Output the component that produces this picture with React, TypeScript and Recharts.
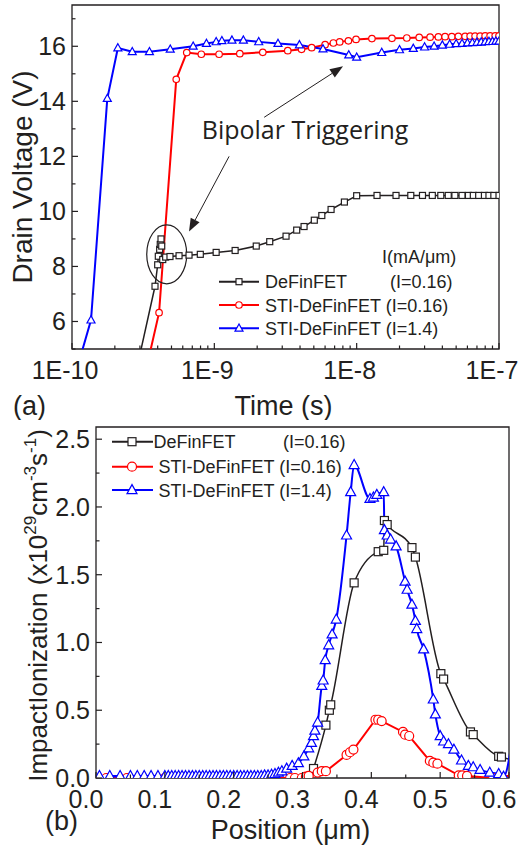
import React from "react";
import {
  LineChart,
  Line,
  XAxis,
  YAxis,
  ReferenceArea,
  ReferenceDot,
  ReferenceLine,
  Legend,
  Label,
} from "recharts";

const INK = "#231f20";
const RED = "#ff0000";
const BLUE = "#0000ff";
const FONT = "'Liberation Sans', Arial, sans-serif";

// ---------- (a) drain voltage vs time ----------
const timeDe = [3.0e-10, 3.83e-10, 4.0e-10, 4.04e-10, 4.13e-10, 4.17e-10, 4.22e-10, 4.27e-10, 4.34e-10, 4.55e-10, 4.88e-10, 5.65e-10, 6.64e-10, 7.97e-10, 1.03e-9, 1.4e-9, 1.97e-9, 2.45e-9, 3.19e-9, 3.79e-9, 4.27e-9, 5.04e-9, 5.69e-9, 6.61e-9, 8.2e-9, 1.0e-8, 1.39e-8, 1.89e-8, 2.4e-8, 2.9e-8, 3.4e-8, 3.9e-8, 4.4e-8, 4.9e-8, 5.5e-8, 6.1e-8, 6.6e-8, 7.2e-8, 7.9e-8, 8.5e-8, 9.2e-8, 1.0e-7];
const voltDe = [4.8, 7.28, 8.06, 8.37, 8.62, 8.8, 9.0, 8.74, 8.25, 8.34, 8.36, 8.39, 8.41, 8.44, 8.51, 8.58, 8.74, 8.9, 9.1, 9.32, 9.45, 9.68, 9.85, 10.07, 10.34, 10.57, 10.58, 10.58, 10.58, 10.58, 10.58, 10.58, 10.58, 10.58, 10.58, 10.58, 10.58, 10.58, 10.58, 10.58, 10.58, 10.58];

const timeStiLo = [3.4e-10, 4.09e-10, 5.4e-10, 6.4e-10, 8.1e-10, 1.08e-9, 1.51e-9, 2.19e-9, 3.28e-9, 4.1e-9, 4.83e-9, 6.0e-9, 6.86e-9, 7.6e-9, 8.75e-9, 9.9e-9, 1.28e-8, 1.77e-8, 2.25e-8, 2.75e-8, 3.28e-8, 3.75e-8, 4.18e-8, 4.66e-8, 5.18e-8, 5.78e-8, 6.27e-8, 6.79e-8, 7.37e-8, 7.99e-8, 8.66e-8, 9.4e-8, 1.0e-7];
const voltStiLo = [4.5, 6.32, 14.8, 15.77, 15.71, 15.71, 15.73, 15.78, 15.84, 15.89, 15.95, 16.06, 16.12, 16.16, 16.2, 16.25, 16.28, 16.29, 16.3, 16.32, 16.33, 16.34, 16.35, 16.35, 16.36, 16.36, 16.37, 16.37, 16.37, 16.38, 16.38, 16.38, 16.38];

const timeStiHi = [1.1e-10, 1.36e-10, 1.77e-10, 2.1e-10, 2.65e-10, 3.5e-10, 4.9e-10, 7.1e-10, 8.8e-10, 1.03e-9, 1.13e-9, 1.33e-9, 1.6e-9, 2.05e-9, 2.8e-9, 3.96e-9, 5.8e-9, 8.8e-9, 1.0e-8, 1.5e-8, 2.0e-8, 2.5e-8, 3.0e-8, 3.5e-8, 4.0e-8, 4.5e-8, 5.0e-8, 5.5e-8, 6.0e-8, 6.5e-8, 7.0e-8, 7.5e-8, 8.0e-8, 8.5e-8, 9.0e-8, 9.5e-8, 1.0e-7];
const voltStiHi = [4.4, 6.05, 14.1, 15.94, 15.8, 15.8, 15.89, 16.0, 16.1, 16.16, 16.2, 16.22, 16.22, 16.16, 16.1, 16.05, 15.9, 15.68, 15.6, 15.77, 15.87, 15.92, 15.97, 16.0, 16.04, 16.07, 16.09, 16.1, 16.12, 16.13, 16.14, 16.15, 16.16, 16.17, 16.17, 16.18, 16.18];

const timeMajor = [1e-10, 1e-9, 1e-8, 1e-7];
const timeLabels = ["1E-10", "1E-9", "1E-8", "1E-7"];
const timeMinor = [2e-10, 3e-10, 4e-10, 5e-10, 6e-10, 7e-10, 8e-10, 9e-10, 2e-9, 3e-9, 4e-9, 5e-9, 6e-9, 7e-9, 8e-9, 9e-9, 2e-8, 3e-8, 4e-8, 5e-8, 6e-8, 7e-8, 8e-8, 9e-8];
const voltMajor = [6, 8, 10, 12, 14, 16];
const voltMinor = [5, 7, 9, 11, 13, 15, 17];

// ---------- (b) impact ionization vs position ----------
const posDe = [0.316, 0.334, 0.339, 0.341, 0.375, 0.41, 0.418, 0.419, 0.423, 0.459, 0.464, 0.501, 0.505, 0.544, 0.548, 0.585, 0.589, 0.61];
const ionDe = [0.07, 0.39, 0.5, 0.54, 1.44, 1.67, 1.68, 1.9, 1.87, 1.7, 1.63, 0.77, 0.73, 0.34, 0.32, 0.16, 0.155, 0.12];

const posStiLo = [0.015, 0.045, 0.1, 0.16, 0.22, 0.26, 0.282, 0.289, 0.299, 0.305, 0.309, 0.322, 0.328, 0.334, 0.364, 0.369, 0.374, 0.406, 0.41, 0.415, 0.446, 0.449, 0.455, 0.485, 0.49, 0.496, 0.527, 0.532, 0.539, 0.577, 0.606];
const ionStiLo = [0, 0, 0, 0, 0, 0, 0, 0, 0, 0.01, 0.015, 0.04, 0.05, 0.05, 0.17, 0.19, 0.21, 0.43, 0.43, 0.42, 0.34, 0.32, 0.31, 0.126, 0.113, 0.106, 0.02, 0.02, 0.015, 0, 0.02];

const posStiHi = [0.005, 0.02, 0.035, 0.05, 0.06, 0.07, 0.08, 0.09, 0.1, 0.105, 0.11, 0.115, 0.12, 0.125, 0.13, 0.135, 0.14, 0.145, 0.15, 0.155, 0.16, 0.165, 0.17, 0.175, 0.18, 0.185, 0.19, 0.195, 0.2, 0.205, 0.21, 0.215, 0.22, 0.225, 0.23, 0.235, 0.24, 0.245, 0.25, 0.255, 0.26, 0.265, 0.27, 0.277, 0.285, 0.294, 0.302, 0.309, 0.313, 0.316, 0.318, 0.322, 0.328, 0.33, 0.333, 0.338, 0.343, 0.349, 0.364, 0.37, 0.375, 0.398, 0.403, 0.408, 0.418, 0.419, 0.423, 0.428, 0.436, 0.449, 0.452, 0.459, 0.464, 0.466, 0.476, 0.49, 0.493, 0.5, 0.505, 0.512, 0.52, 0.531, 0.541, 0.548, 0.558, 0.572, 0.585, 0.592, 0.612];
const ionStiHi = [0.015, 0.015, 0.015, 0.015, 0.015, 0.015, 0.015, 0.015, 0.015, 0.015, 0.015, 0.015, 0.015, 0.015, 0.015, 0.015, 0.015, 0.015, 0.015, 0.015, 0.015, 0.015, 0.015, 0.015, 0.015, 0.015, 0.015, 0.015, 0.015, 0.015, 0.015, 0.015, 0.015, 0.015, 0.015, 0.015, 0.015, 0.02, 0.02, 0.025, 0.03, 0.04, 0.05, 0.07, 0.09, 0.11, 0.16, 0.22, 0.26, 0.31, 0.35, 0.41, 0.68, 0.72, 0.87, 0.98, 1.06, 1.17, 1.79, 2.11, 2.31, 2.06, 2.07, 2.09, 2.11, 1.83, 1.79, 1.76, 1.71, 1.45, 1.39, 1.28, 1.16, 1.1, 0.95, 0.58, 0.47, 0.31, 0.27, 0.25, 0.21, 0.13, 0.09, 0.08, 0.06, 0.04, 0.03, 0.01, 0.6];

const posMajor = [0, 0.1, 0.2, 0.3, 0.4, 0.5, 0.6];
const posLabels = ["0.0", "0.1", "0.2", "0.3", "0.4", "0.5", "0.6"];
const posMinor = [0.05, 0.15, 0.25, 0.35, 0.45, 0.55];
const ionMajor = [0, 0.5, 1, 1.5, 2, 2.5];
const ionLabels = ["0.0", "0.5", "1.0", "1.5", "2.0", "2.5"];
const ionMinor = [0.25, 0.75, 1.25, 1.75, 2.25];

const seriesNames = ["DeFinFET", "STI-DeFinFET", "STI-DeFinFET"];
const seriesCurrents = ["(I=0.16)", "(I=0.16)", "(I=1.4)"];

const zip = (xs: number[], ys: number[]) => xs.map((x, i) => ({ x, y: ys[i] }));

// relative match so it works for 1e-10 as well as 0.0
const findMajor = (majors: number[], v: number) =>
  majors.findIndex((m) => Math.abs(m - v) <= Math.max(Math.abs(m), Math.abs(v)) * 1e-6 + 1e-15);

function Marker({ shape, cx, cy, size, color }: any) {
  if (cx == null || cy == null || isNaN(cx) || isNaN(cy)) return null;
  const common = { fill: "#fff", stroke: color, strokeWidth: 1.2 };
  if (shape === "square")
    return <rect x={cx - size / 2} y={cy - size / 2} width={size} height={size} {...common} />;
  if (shape === "circle") return <circle cx={cx} cy={cy} r={size / 2} {...common} />;
  const h = size * 0.9;
  return (
    <polygon
      points={`${cx},${cy - h * 0.6} ${cx - size / 2},${cy + h * 0.4} ${cx + size / 2},${cy + h * 0.4}`}
      {...common}
    />
  );
}

const dotFn = (shape: string, size: number, color: string) => (p: any) =>
  <Marker key={`m${p.index}`} shape={shape} cx={p.cx} cy={p.cy} size={size} color={color} />;

function XTick({ x, y, payload, majors, labels, dx }: any) {
  const i = findMajor(majors, payload.value);
  return (
    <g>
      <line x1={x} y1={y} x2={x} y2={y - (i >= 0 ? 6 : 3.5)} stroke={INK} strokeWidth={1.2} />
      {i >= 0 && (
        <text x={x + dx} y={y + 30} textAnchor="middle" fontSize={25} fontFamily={FONT} fill={INK}>
          {labels[i]}
        </text>
      )}
    </g>
  );
}

function YTick({ x, y, payload, majors, labels }: any) {
  const i = findMajor(majors, payload.value);
  return (
    <g>
      <line x1={x} y1={y} x2={x + (i >= 0 ? 6 : 3.5)} y2={y} stroke={INK} strokeWidth={1.2} />
      {i >= 0 && (
        <text x={x - 6} y={y} dy="0.36em" textAnchor="end" fontSize={25} fontFamily={FONT} fill={INK}>
          {labels[i]}
        </text>
      )}
    </g>
  );
}

function Arrow(p: any) {
  const { x1, y1, x2, y2 } = p;
  const ang = Math.atan2(y2 - y1, x2 - x1);
  const L = 13;
  const W = 5;
  const bx = x2 - L * Math.cos(ang);
  const by = y2 - L * Math.sin(ang);
  const nx = -Math.sin(ang) * W;
  const ny = Math.cos(ang) * W;
  return (
    <g>
      <line x1={x1} y1={y1} x2={bx} y2={by} stroke={INK} strokeWidth={1} />
      <polygon points={`${x2},${y2} ${bx + nx},${by + ny} ${bx - nx},${by - ny}`} fill={INK} />
    </g>
  );
}

function LegendRow({ y, x0, x1, mx, shape, size, color, children }: any) {
  return (
    <g>
      <line x1={x0} y1={y} x2={x1} y2={y} stroke={color} strokeWidth={2} />
      <Marker shape={shape} cx={mx} cy={y} size={size} color={color} />
      {children}
    </g>
  );
}

const shapes = ["square", "circle", "triangle"];
const colors = [INK, RED, BLUE];

function TopLegend() {
  const rows = [281.7, 305, 328.3];
  const sizes = [6, 6.5, 8];
  return (
    <svg width={524} height={420} style={{ display: "block" }}>
      <text x={382} y={263} fontSize={18} fontFamily={FONT} fill={INK}>I(mA/μm)</text>
      {rows.map((ry, i) => (
        <LegendRow key={i} y={ry} x0={219} x1={259} mx={239} shape={shapes[i]} size={sizes[i]} color={colors[i]}>
          <text x={265} y={ry + 6.5} fontSize={18} fontFamily={FONT} fill={INK}>
            {i === 0 ? seriesNames[i] : `${seriesNames[i]} ${seriesCurrents[i]}`}
          </text>
          {i === 0 && (
            <text x={390} y={ry + 6.5} fontSize={18} fontFamily={FONT} fill={INK}>
              {seriesCurrents[i]}
            </text>
          )}
        </LegendRow>
      ))}
    </svg>
  );
}

function BottomLegend() {
  const rows = [21.7, 46.7, 70];
  const sizes = [8, 9, 10];
  return (
    <svg width={524} height={428} style={{ display: "block" }}>
      {rows.map((ry, i) => (
        <LegendRow key={i} y={ry} x0={112} x1={153} mx={132} shape={shapes[i]} size={sizes[i]} color={colors[i]}>
          <text x={i === 0 ? 153.5 : 158.5} y={ry + 6.5} fontSize={18} fontFamily={FONT} fill={INK}>
            {i === 0 ? seriesNames[i] : `${seriesNames[i]} ${seriesCurrents[i]}`}
          </text>
          {i === 0 && (
            <text x={283} y={ry + 6.5} fontSize={18} fontFamily={FONT} fill={INK}>
              {seriesCurrents[i]}
            </text>
          )}
        </LegendRow>
      ))}
    </svg>
  );
}

const legendWrap = (h: number) => ({
  position: "absolute" as const,
  left: 0,
  top: 0,
  width: 524,
  height: h,
  pointerEvents: "none" as const,
});

export default function App() {
  return (
    <div style={{ position: "absolute", left: 0, top: 0, width: 524, height: 848, background: "#fff" }}>
      <div style={{ position: "absolute", left: 0, top: 0 }}>
        <LineChart width={524} height={420} margin={{ top: 5, right: 25, left: 0, bottom: 0 }}>
          <XAxis
            dataKey="x"
            type="number"
            scale="log"
            domain={[1e-10, 1e-7]}
            allowDataOverflow
            ticks={[...timeMajor, ...timeMinor]}
            interval={0}
            height={71}
            tickSize={0}
            tickMargin={0}
            tickLine={false}
            axisLine={false}
            tick={(p: any) => <XTick {...p} majors={timeMajor} labels={timeLabels} dx={-7} />}
          >
            <Label
              content={(p: any) => {
                const vb = p.viewBox;
                return (
                  <g fontFamily={FONT} fill={INK} fontSize={27}>
                    <text x={vb.x + vb.width / 2 - 2} y={vb.y + 66} textAnchor="middle">Time (s)</text>
                    <text x={13} y={vb.y + 66}>(a)</text>
                  </g>
                );
              }}
            />
          </XAxis>
          <YAxis
            type="number"
            domain={[5, 17.5]}
            allowDataOverflow
            ticks={[...voltMajor, ...voltMinor]}
            interval={0}
            width={72}
            tickSize={0}
            tickMargin={0}
            tickLine={false}
            axisLine={false}
            tick={(p: any) => <YTick {...p} majors={voltMajor} labels={voltMajor.map(String)} />}
          >
            <Label
              content={(p: any) => {
                const vb = p.viewBox;
                const cy = vb.y + vb.height / 2;
                return (
                  <text
                    x={32}
                    y={cy}
                    transform={`rotate(-90, 32, ${cy})`}
                    textAnchor="middle"
                    fontSize={28}
                    fontFamily={FONT}
                    fill={INK}
                  >
                    Drain Voltage (V)
                  </text>
                );
              }}
            />
          </YAxis>
          <ReferenceArea x1={1e-10} x2={1e-7} y1={5} y2={17.5} fill="none" stroke={INK} strokeWidth={1.3} />
          <ReferenceDot
            x={4.63e-10}
            y={8.44}
            r={1}
            shape={(p: any) => (
              <ellipse cx={p.cx} cy={p.cy} rx={20} ry={29.5} fill="none" stroke={INK} strokeWidth={1.2} />
            )}
          />
          <ReferenceDot
            x={4.34e-9}
            y={12.95}
            r={1}
            shape={(p: any) => (
              <text x={p.cx} y={p.cy} dy="0.36em" textAnchor="middle" fontSize={25} fontFamily="'Open Sans', sans-serif" fill={INK}>
                Bipolar Triggering
              </text>
            )}
          />
          <ReferenceLine segment={[{ x: 2.24e-9, y: 13.42 }, { x: 8.02e-9, y: 15.27 }]} shape={Arrow} />
          <ReferenceLine segment={[{ x: 1.27e-9, y: 12.0 }, { x: 6.64e-10, y: 9.27 }]} shape={Arrow} />
          <Line data={zip(timeDe, voltDe)} dataKey="y" stroke={INK} strokeWidth={1.5} dot={dotFn("square", 6, INK)} activeDot={false} isAnimationActive={false} />
          <Line data={zip(timeStiLo, voltStiLo)} dataKey="y" stroke={RED} strokeWidth={2} dot={dotFn("circle", 6.5, RED)} activeDot={false} isAnimationActive={false} />
          <Line data={zip(timeStiHi, voltStiHi)} dataKey="y" stroke={BLUE} strokeWidth={2} dot={dotFn("triangle", 8, BLUE)} activeDot={false} isAnimationActive={false} />
          <Legend layout="vertical" align="center" verticalAlign="middle" wrapperStyle={legendWrap(420)} content={() => <TopLegend />} />
        </LineChart>
      </div>

      <div style={{ position: "absolute", left: 0, top: 420 }}>
        <LineChart width={524} height={428} margin={{ top: 7, right: 15, left: 0, bottom: 0 }}>
          <XAxis
            dataKey="x"
            type="number"
            domain={[0, 0.6]}
            allowDataOverflow
            ticks={[...posMajor, ...posMinor]}
            interval={0}
            height={70}
            tickSize={0}
            tickMargin={0}
            tickLine={false}
            axisLine={false}
            tick={(p: any) => <XTick {...p} majors={posMajor} labels={posLabels} dx={-10} />}
          >
            <Label
              content={(p: any) => {
                const vb = p.viewBox;
                return (
                  <g fontFamily={FONT} fill={INK} fontSize={27}>
                    <text x={vb.x + vb.width / 2 - 12} y={vb.y + 61} textAnchor="middle">Position (μm)</text>
                    <text x={45} y={vb.y + 52}>(b)</text>
                  </g>
                );
              }}
            />
          </XAxis>
          <YAxis
            type="number"
            domain={[0, 2.59]}
            allowDataOverflow
            ticks={[...ionMajor, ...ionMinor]}
            interval={0}
            width={96}
            tickSize={0}
            tickMargin={0}
            tickLine={false}
            axisLine={false}
            tick={(p: any) => <YTick {...p} majors={ionMajor} labels={ionLabels} />}
          >
            <Label
              content={(p: any) => {
                const vb = p.viewBox;
                const cy = vb.y + vb.height / 2 + 3;
                return (
                  <text
                    x={47}
                    y={cy}
                    transform={`rotate(-90, 47, ${cy})`}
                    textAnchor="middle"
                    fontSize={26}
                    fontFamily={FONT}
                    fill={INK}
                  >
                    ImpactIonization (x10
                    <tspan dy={-11} fontSize={17}>29</tspan>
                    <tspan dy={11}>cm</tspan>
                    <tspan dy={-11} fontSize={17}>-3</tspan>
                    <tspan dy={11}>s</tspan>
                    <tspan dy={-11} fontSize={17}>-1</tspan>
                    <tspan dy={11}>)</tspan>
                  </text>
                );
              }}
            />
          </YAxis>
          <ReferenceArea x1={0} x2={0.6} y1={0} y2={2.59} fill="none" stroke={INK} strokeWidth={1.3} />
          <Line type="monotone" data={zip(posDe, ionDe)} dataKey="y" stroke={INK} strokeWidth={1.5} dot={dotFn("square", 8, INK)} activeDot={false} isAnimationActive={false} />
          <Line data={zip(posStiLo, ionStiLo)} dataKey="y" stroke={RED} strokeWidth={2} dot={dotFn("circle", 9, RED)} activeDot={false} isAnimationActive={false} />
          <Line type="monotone" data={zip(posStiHi, ionStiHi)} dataKey="y" stroke={BLUE} strokeWidth={2} dot={dotFn("triangle", 10, BLUE)} activeDot={false} isAnimationActive={false} />
          <Legend layout="vertical" align="center" verticalAlign="middle" wrapperStyle={legendWrap(428)} content={() => <BottomLegend />} />
        </LineChart>
      </div>
    </div>
  );
}
